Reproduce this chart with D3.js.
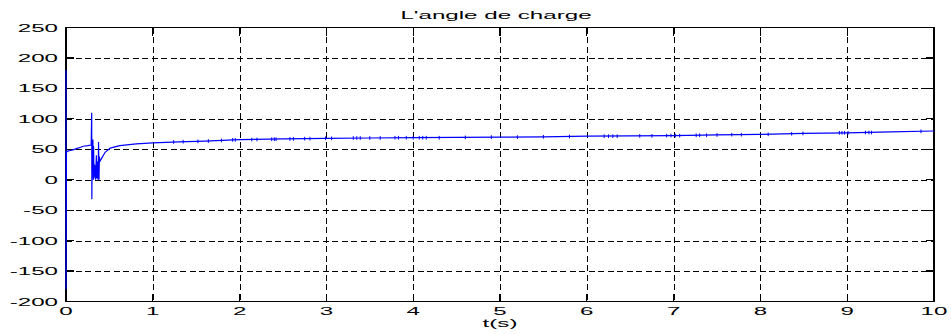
<!DOCTYPE html>
<html>
<head>
<meta charset="utf-8">
<script src="https://cdn.jsdelivr.net/npm/d3@7"></script>
<style>
  body { margin: 0; background: #fff; }
  svg { display: block; }
  text { font-family: "Liberation Sans", Arial, sans-serif; font-size: 11.5px; fill: #000; }
</style>
</head>
<body>
<div id="chart-area"></div>
<script>
// données
const titre = "L'angle de charge";
const xLabel = "t(s)";
const xTicks = [0, 1, 2, 3, 4, 5, 6, 7, 8, 9, 10];
const yTicks = [-200, -150, -100, -50, 0, 50, 100, 150, 200, 250];

// courbe principale (temps, angle en degrés)
const tVals = [0, 0, 0.005, 0.02, 0.05, 0.08, 0.12, 0.16, 0.2, 0.25, 0.29,
  0.296, 0.298, 0.302, 0.31, 0.315, 0.318, 0.322, 0.33, 0.34, 0.35, 0.355, 0.36,
  0.37, 0.375, 0.38, 0.385, 0.39, 0.41, 0.45, 0.51, 0.62, 0.81, 1.0, 1.3,
  1.6, 2.0, 2.5, 3.0, 3.5, 4.0, 4.5, 5.0, 5.5, 6.0, 6.5, 7.0, 7.5, 8.0,
  8.5, 9.0, 9.5, 10];
const angle = [180, -180, 45, 47, 48, 49, 51, 53, 55, 56, 57,
  110, -32, 57, 66, 0, 55, 3, 25, 0, 40, 2, 30,
  0, 62, 0, 38, 30, 35, 45, 52, 56, 59, 60.5, 62,
  63.5, 66, 67, 68, 68.5, 69, 69.5, 70, 70.5, 71.5, 72, 72.5, 73.5, 74.5,
  76, 77, 78.5, 80];

// petites pointes le long de la courbe
const spikeT = [1.24, 1.35, 1.52, 1.64, 1.79, 1.92, 1.95, 2.14, 2.2, 2.37, 2.4, 2.42,
  2.58, 2.62, 2.75, 2.81, 2.99, 3.06, 3.31, 3.35, 3.39, 3.5, 3.62, 3.79, 3.83,
  3.92, 4.0, 4.07, 4.11, 4.15, 4.3, 4.6, 4.9, 5.2, 5.5, 5.8, 6.2, 6.25, 6.3, 6.35,
  6.61, 6.75, 6.92, 6.97, 7.02, 7.07, 7.26, 7.3, 7.38, 7.5, 7.67, 7.78, 8.09,
  8.36, 8.49, 8.91, 8.94, 8.97, 9.01, 9.21, 9.25, 9.28, 9.85];
const spikeV = [62, 62.5, 63, 63.5, 64.5, 65.5, 65.5, 66, 66, 66.5, 66.5, 66.5,
  67, 67, 67.5, 67.5, 68, 68, 68.5, 68.5, 68.5, 68.5, 68.5, 69, 69,
  69, 69, 69, 69, 69, 69, 69.5, 70, 70, 70.5, 71, 71.5, 71.5, 71.5, 71.5,
  72, 72, 72.5, 72.5, 72.5, 72.5, 73, 73, 73, 73.5, 74, 74, 74.5,
  75.5, 76, 77, 77, 77, 77, 77.5, 77.5, 77.5, 79.5];
const spikeH = 3;

const width = 951;
const height = 334;
const margin = { left: 66, right: 17, top: 27.5, bottom: 32.5 };
const sx = 2.1; // texte étiré horizontalement comme sur l'image

const svg = d3.select("#chart-area")
  .append("svg")
  .attr("width", width)
  .attr("height", height);

const x = d3.scaleLinear()
  .domain([0, 10])
  .range([margin.left, width - margin.right]);

const y = d3.scaleLinear()
  .domain([-200, 250])
  .range([height - margin.bottom, margin.top]);

function label(txt, px, py, anchor) {
  svg.append("text")
    .attr("transform", `translate(${px},${py}) scale(${sx},1)`)
    .attr("text-anchor", anchor)
    .text(txt);
}

// grille en tirets
const grid = svg.append("g")
  .attr("stroke", "#000")
  .attr("stroke-width", 1)
  .attr("stroke-dasharray", "6,3.5")
  .attr("shape-rendering", "crispEdges");

grid.selectAll(".gx")
  .data(xTicks.slice(1, -1))
  .enter()
  .append("line")
  .attr("x1", d => Math.round(x(d)) + 0.5)
  .attr("x2", d => Math.round(x(d)) + 0.5)
  .attr("y1", y(250))
  .attr("y2", y(-200));

grid.selectAll(".gy")
  .data(yTicks.slice(1, -1))
  .enter()
  .append("line")
  .attr("y1", d => Math.round(y(d)) + 0.5)
  .attr("y2", d => Math.round(y(d)) + 0.5)
  .attr("x1", x(0))
  .attr("x2", x(10));

// cadre et graduations
const tick = 8;
const axes = svg.append("g")
  .attr("stroke", "#000")
  .attr("stroke-width", 1.2)
  .attr("shape-rendering", "crispEdges");

axes.append("rect")
  .attr("x", x(0))
  .attr("y", y(250))
  .attr("width", x(10) - x(0))
  .attr("height", y(-200) - y(250))
  .attr("fill", "none");

xTicks.forEach(d => {
  axes.append("line").attr("x1", x(d)).attr("x2", x(d))
    .attr("y1", y(-200)).attr("y2", y(-200) - tick);
  axes.append("line").attr("x1", x(d)).attr("x2", x(d))
    .attr("y1", y(250)).attr("y2", y(250) + tick);
  label(d, x(d), y(-200) + 13, "middle");
});

yTicks.forEach(d => {
  axes.append("line").attr("x1", x(0)).attr("x2", x(0) + tick)
    .attr("y1", y(d)).attr("y2", y(d));
  axes.append("line").attr("x1", x(10)).attr("x2", x(10) - tick)
    .attr("y1", y(d)).attr("y2", y(d));
  label(d, x(0) - 8, y(d) + 4, "end");
});

// courbe (dessinée par-dessus le cadre, comme sur la figure)
const line = d3.line()
  .x((d, i) => x(tVals[i]))
  .y(d => y(d));

svg.append("path")
  .datum(angle)
  .attr("fill", "none")
  .attr("stroke", "#0000ff")
  .attr("stroke-width", 1.2)
  .attr("d", line);

svg.selectAll(".spike")
  .data(spikeT)
  .enter()
  .append("line")
  .attr("class", "spike")
  .attr("x1", d => x(d))
  .attr("x2", d => x(d))
  .attr("y1", (d, i) => y(spikeV[i] - spikeH))
  .attr("y2", (d, i) => y(spikeV[i] + spikeH))
  .attr("stroke", "#0000ff")
  .attr("stroke-width", 1);

label(titre, (x(0) + x(10)) / 2 - 4, 19, "middle");
label(xLabel, (x(0) + x(10)) / 2, 327, "middle");
</script>
</body>
</html>
